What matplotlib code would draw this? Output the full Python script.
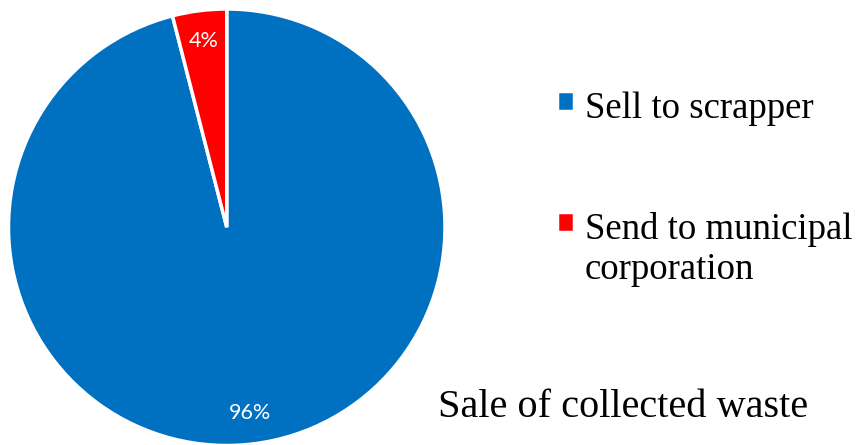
import matplotlib
matplotlib.use('Agg')
import matplotlib.pyplot as plt

labels = ["Sell to scrapper", "Send to municipal\ncorporation"]
shares = [96, 4]
colors = ["#0070C0", "#FF0000"]
title = "Sale of collected waste"

fig = plt.figure(figsize=(8.56, 4.45), dpi=100)
ax = fig.add_axes([8.5/856, -0.5/445, 436.5/856, 436.5/445])

wedges, texts, autotexts = ax.pie(
    shares, colors=colors, startangle=90, counterclock=False,
    autopct='%1.0f%%', pctdistance=0.86,
    wedgeprops=dict(edgecolor='white', linewidth=2.5),
    textprops=dict(color='white', fontsize=15.5, family='Lato'))
ax.set_xlim(-1.0, 1.0)
ax.set_ylim(-1.0, 1.0)
ax.axis('off')

leg = fig.legend(wedges, labels, loc='upper left', bbox_to_anchor=(528/856, 1 - 62/445),
                 frameon=False, prop=dict(family='Liberation Serif', size=26.5),
                 handlelength=0.46, handleheight=0.46, handletextpad=0.28,
                 labelspacing=2.35, borderpad=0.3)
# square next to the first line of a wrapped label
for col in leg._legend_handle_box.get_children():
    for hp in col.get_children():
        hp.align = 'top'

fig.text(438/856, 1 - 417/445, title, ha='left', va='baseline',
         family='Liberation Serif', fontsize=29)

fig.savefig('out.png', dpi=100)
